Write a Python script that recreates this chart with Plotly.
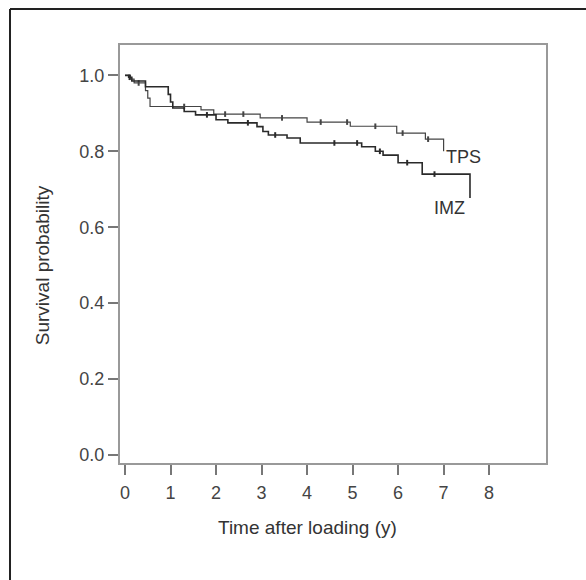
import plotly.graph_objects as go

# Kaplan-Meier step data (event times, survival after event)
tps_t = [0, 0.12, 0.2, 0.45, 0.5, 0.55, 1.67, 1.95, 2.97, 4.0, 4.95, 5.97, 6.6, 7.0]
tps_s = [1.0, 0.99, 0.98, 0.96, 0.94, 0.918, 0.909, 0.898, 0.888, 0.877, 0.866, 0.848, 0.832, 0.80]
tps_cens_t = [0.3, 1.3, 2.2, 2.6, 3.45, 4.3, 4.88, 5.5, 6.1, 6.66]

imz_t = [0, 0.08, 0.15, 0.45, 0.95, 1.0, 1.05, 1.3, 1.55, 2.0, 2.26, 2.9, 3.03, 3.15, 3.56, 3.85,
         5.2, 5.5, 5.67, 6.0, 6.53, 7.58]
imz_s = [1.0, 0.995, 0.985, 0.97, 0.95, 0.93, 0.914, 0.905, 0.896, 0.883, 0.875, 0.865, 0.852,
         0.843, 0.835, 0.822, 0.812, 0.80, 0.79, 0.77, 0.74, 0.677]
imz_cens_t = [0.1, 1.8, 2.7, 3.3, 4.6, 5.1, 5.6, 6.2, 6.8]

x_ticks = [0, 1, 2, 3, 4, 5, 6, 7, 8]
y_ticks = [0.0, 0.2, 0.4, 0.6, 0.8, 1.0]
y_tick_labels = ["0.0", "0.2", "0.4", "0.6", "0.8", "1.0"]


def surv_at(ts, ss, t):
    v = ss[0]
    for ti, si in zip(ts, ss):
        if ti <= t:
            v = si
    return v


fig = go.Figure()
for name, ts, ss, cens, col, w in [
    ("TPS", tps_t, tps_s, tps_cens_t, "#444444", 1.2),
    ("IMZ", imz_t, imz_s, imz_cens_t, "#2a2a2a", 1.6),
]:
    fig.add_trace(go.Scatter(x=ts, y=ss, mode="lines", line=dict(shape="hv", color=col, width=w),
                             showlegend=False, hoverinfo="skip"))
    fig.add_trace(go.Scatter(x=cens, y=[surv_at(ts, ss, c) for c in cens], mode="markers",
                             marker=dict(symbol="line-ns", size=4, line=dict(color=col, width=2)),
                             showlegend=False, hoverinfo="skip"))

font_main = "Liberation Sans, Arial, sans-serif"
fig.add_annotation(x=7.43, y=0.785, text="TPS", showarrow=False, xref="x", yref="y",
                   font=dict(family=font_main, size=18, color="#333333"))
fig.add_annotation(x=7.12, y=0.651, text="IMZ", showarrow=False, xref="x", yref="y",
                   font=dict(family=font_main, size=18, color="#333333"))
fig.add_annotation(x=4, y=-0.1555, text="Time after loading (y)", showarrow=False, xref="x", yref="paper",
                   xanchor="center", yanchor="middle",
                   font=dict(family=font_main, size=19, color="#333333"))
fig.add_annotation(x=0, y=0.5, text="Survival probability", showarrow=False, xref="paper", yref="y",
                   xanchor="center", yanchor="middle", xshift=-78, textangle=-90,
                   font=dict(family=font_main, size=19, color="#333333"))

# outer border (top and left)
fig.add_shape(type="line", xref="paper", yref="paper", x0=-0.2582, x1=-0.2582, y0=-0.3, y1=1.0861,
              line=dict(color="#222222", width=2))
fig.add_shape(type="line", xref="paper", yref="paper", x0=-0.2582, x1=1.2, y0=1.0861, y1=1.0861,
              line=dict(color="#222222", width=2))

axis_common = dict(showgrid=False, zeroline=False, showline=True, linecolor="#999999", linewidth=2,
                   mirror=True, ticks="outside", ticklen=10, tickcolor="#777777", tickwidth=1.5,
                   tickfont=dict(family=font_main, size=18, color="#444444"))
fig.update_xaxes(range=[-0.11, 9.25], tickvals=x_ticks, ticktext=[str(v) for v in x_ticks],
                 ticklabelstandoff=2, **axis_common)
fig.update_yaxes(range=[-0.021, 1.08], tickvals=y_ticks, ticktext=y_tick_labels, **axis_common)

fig.update_layout(width=586, height=580, margin=dict(l=120, r=40, t=45, b=117),
                  plot_bgcolor="white", paper_bgcolor="white")
fig.write_html("out.html")
